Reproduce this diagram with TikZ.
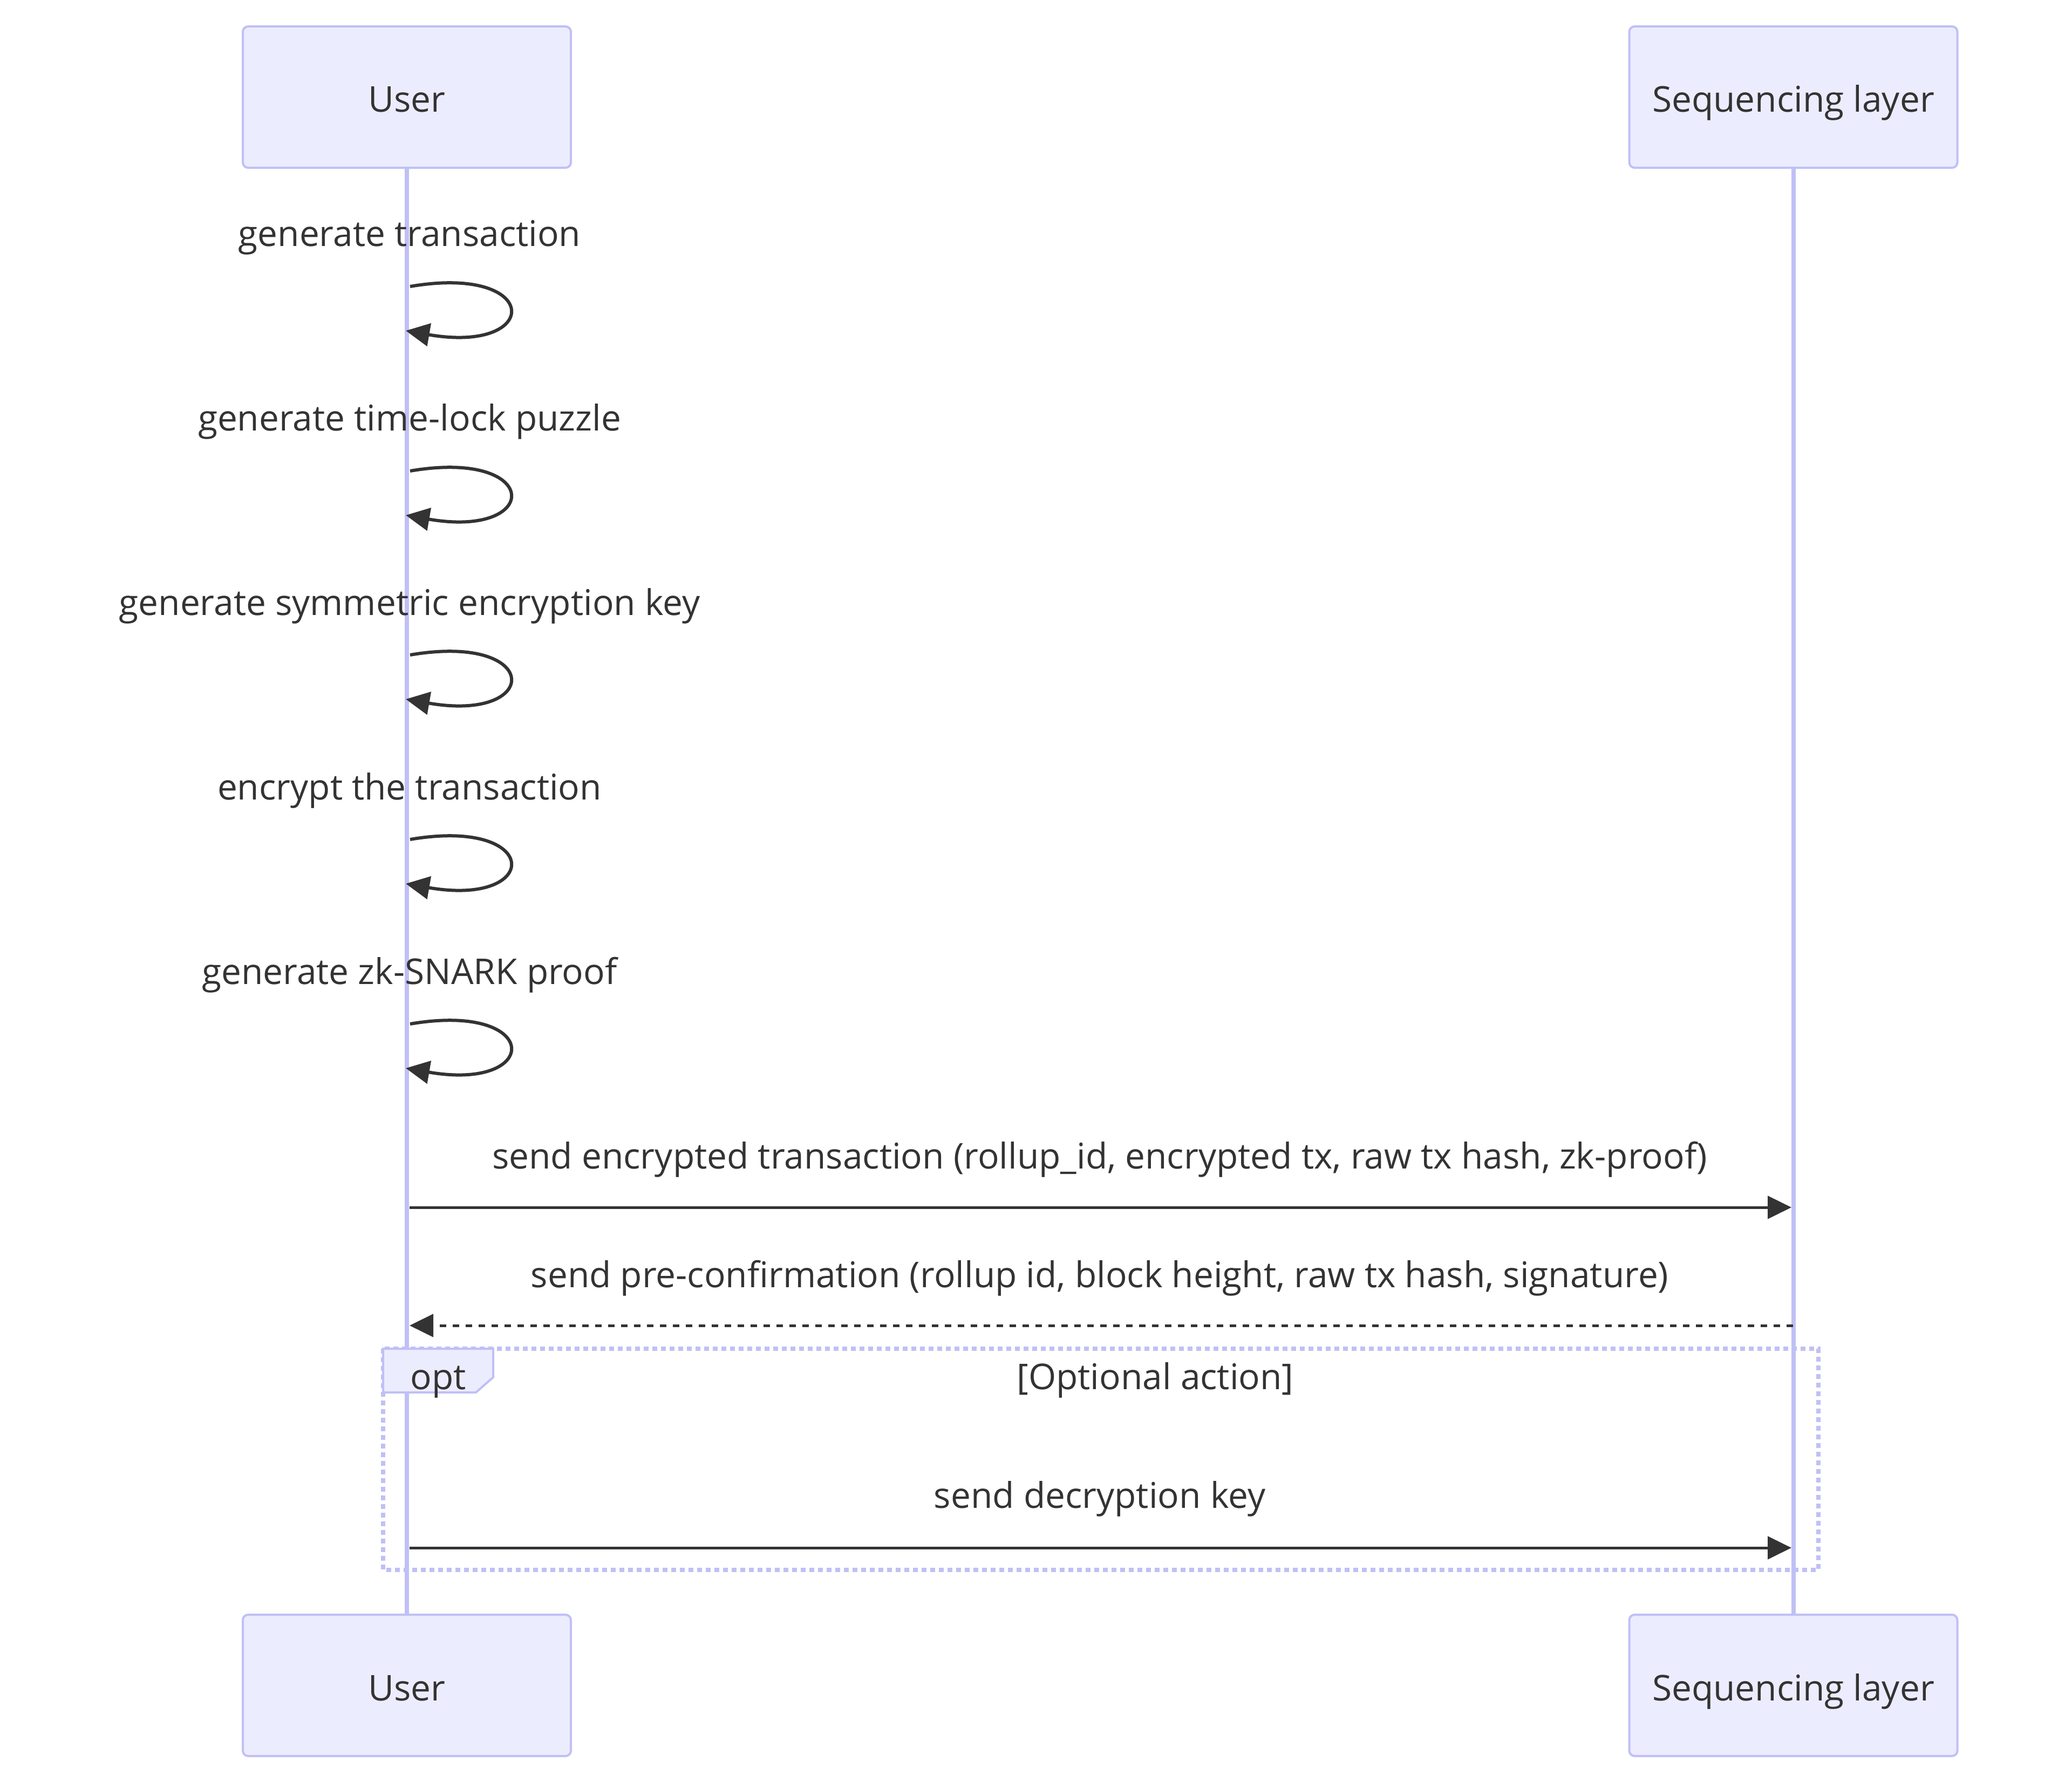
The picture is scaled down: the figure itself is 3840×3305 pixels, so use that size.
\documentclass[tikz,border=0pt]{standalone}
\usepackage{fontspec}
\setmainfont{Open Sans}
\usetikzlibrary{arrows.meta}
\definecolor{actorfill}{HTML}{ECECFF}
\definecolor{actorline}{HTML}{C0C0F6}
\definecolor{ink}{HTML}{333333}
\pgfdeclarelayer{bg}
\pgfsetlayers{bg,main}

\begin{document}
\begin{tikzpicture}[x=0.25pt,y=-0.25pt,
  font=\fontsize{16.45pt}{20pt}\selectfont, text=ink,
  actor/.style={draw=actorline, fill=actorfill, line width=1pt, rounded corners=2.5pt,
    minimum width=152pt, minimum height=65.5pt, text height=14pt, text depth=0pt, inner sep=0pt},
  lifeline/.style={draw=actorline, line width=2pt},
  msg/.style={draw=ink, line width=1.25pt, -{Triangle[length=11pt,width=10.5pt]}},
  reply/.style={msg, dash pattern=on 3pt off 3pt},
  selfmsg/.style={draw=ink, line width=1.5pt, -{Triangle[length=11pt,width=10.5pt]}},
  lbl/.style={anchor=base, inner sep=0pt},
  optframe/.style={draw=actorline, line width=2pt, dash pattern=on 2.25pt off 1.75pt},
  opttag/.style={draw=actorline, fill=actorfill, line width=1pt}
]
\useasboundingbox (0,0) rectangle (3840,3305);

% participants, top and bottom
\node[actor] (uTop) at (754,180) {User};
\node[actor] (sTop) at (3323.5,180) {Sequencing layer};
\node[actor] (uBot) at (754,3124) {User};
\node[actor] (sBot) at (3323.5,3124) {Sequencing layer};

% white page and lifelines behind everything
\begin{pgfonlayer}{bg}
  \fill[white] (0,0) rectangle (3840,3305);
  \draw[lifeline] (uTop.south) -- (uBot.north);
  \draw[lifeline] (sTop.south) -- (sBot.north);
\end{pgfonlayer}

% self messages of the user
\node[lbl] (t1) at (759,457) {generate transaction};
\coordinate (l1a) at (760,531); \coordinate (l1b) at (752,613);
\draw[selfmsg] (l1a) .. controls (1005,489) and (1005,657) .. (l1b);

\node[lbl] (t2) at (759,799) {generate time-lock puzzle};
\coordinate (l2a) at (760,873); \coordinate (l2b) at (752,955);
\draw[selfmsg] (l2a) .. controls (1005,831) and (1005,999) .. (l2b);

\node[lbl] (t3) at (759,1140) {generate symmetric encryption key};
\coordinate (l3a) at (760,1214); \coordinate (l3b) at (752,1296);
\draw[selfmsg] (l3a) .. controls (1005,1172) and (1005,1340) .. (l3b);

\node[lbl] (t4) at (759,1482) {encrypt the transaction};
\coordinate (l4a) at (760,1556); \coordinate (l4b) at (752,1638);
\draw[selfmsg] (l4a) .. controls (1005,1514) and (1005,1682) .. (l4b);

\node[lbl] (t5) at (759,1824) {generate zk-SNARK proof};
\coordinate (l5a) at (760,1898); \coordinate (l5b) at (752,1980);
\draw[selfmsg] (l5a) .. controls (1005,1856) and (1005,2024) .. (l5b);

% messages between the participants
\node[lbl] (m1) at (2038,2166) {send encrypted transaction (rollup\_id, encrypted tx, raw tx hash, zk-proof)};
\coordinate (m1a) at (759,2238); \coordinate (m1b) at (3320,2238);
\draw[msg] (m1a) -- (m1b);

\node[lbl] (m2) at (2038,2386) {send pre-confirmation (rollup id, block height, raw tx hash, signature)};
\coordinate (m2a) at (3323,2457); \coordinate (m2b) at (759,2457);
\draw[reply] (m2a) -- (m2b);

% optional block
\coordinate (oTL) at (710,2500); \coordinate (oBR) at (3370,2910);
\draw[optframe] (oTL) rectangle (oBR);
\draw[opttag] (710,2500) -- (914,2500) -- (914,2553) -- (882,2581) -- (710,2581) -- cycle;
\node[lbl] (optT) at (812,2575) {opt};
\node[lbl] (optC) at (2141,2575) {[Optional action]};

\node[lbl] (m3) at (2038,2795) {send decryption key};
\coordinate (m3a) at (759,2869); \coordinate (m3b) at (3320,2869);
\draw[msg] (m3a) -- (m3b);
\end{tikzpicture}
\end{document}
